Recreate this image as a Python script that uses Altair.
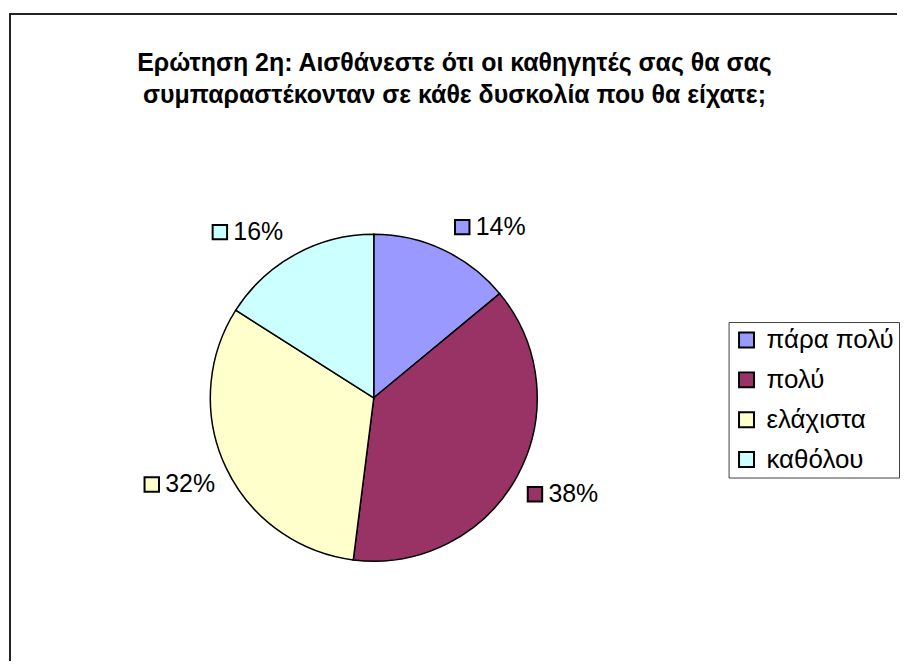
import altair as alt
import pandas as pd

categories = ["πάρα πολύ", "πολύ", "ελάχιστα", "καθόλου"]
values = [14, 38, 32, 16]
colors = ["#9999FF", "#993366", "#FFFFCC", "#CCFFFF"]
title_lines = [
    "Ερώτηση 2η: Αισθάνεστε ότι οι καθηγητές σας θα σας",
    "συμπαραστέκονταν σε κάθε δυσκολία που θα είχατε;",
]

df = pd.DataFrame({"category": categories, "value": values, "order": list(range(len(values)))})

W, H = 880, 640
CX, CY, R = 366, 390, 164
LR = 176
BOXW = 71
FONT = "Liberation Sans"

scale = alt.Scale(domain=categories, range=colors)
base = alt.Chart(df)

pie = base.mark_arc(radius=R, stroke="black", strokeWidth=1.5).encode(
    theta=alt.Theta("value:Q", stack=True),
    order=alt.Order("order:Q"),
    color=alt.Color(
        "category:N",
        scale=scale,
        sort=categories,
        legend=alt.Legend(
            title=None,
            orient="none",
            legendX=722,
            legendY=314,
            strokeColor="#404040",
            padding=5,
            symbolType="square",
            symbolSize=225,
            symbolStrokeColor="black",
            symbolStrokeWidth=2,
            symbolOpacity=1,
            labelFontSize=26,
            labelFont=FONT,
            labelColor="black",
            labelOffset=7,
            rowPadding=14,
        ),
    ),
    x=alt.value(CX),
    y=alt.value(CY),
)

lab = (
    base.transform_joinaggregate(total="sum(value)")
    .transform_window(cum="sum(value)", sort=[alt.SortField("order")])
    .transform_calculate(
        mid="2*PI*(datum.cum - datum.value/2)/datum.total",
        ax=f"{CX} + {LR}*sin(datum.mid)",
        ay=f"{CY} - {LR}*cos(datum.mid)",
    )
    .transform_calculate(
        gap="7*max(cos(datum.mid), 0)",
    )
    .transform_calculate(
        bl=f"sin(datum.mid) >= 0 ? datum.ax + datum.gap : datum.ax - {BOXW} - datum.gap",
        by="cos(datum.mid) >= 0 ? datum.ay - 12 : datum.ay + 12",
        label="datum.value + '%'",
    )
    .transform_calculate(sqx="datum.bl + 7.5", tx="datum.bl + 21")
)

squares = lab.mark_point(
    shape="square", filled=True, size=210, stroke="black", strokeWidth=2, opacity=1
).encode(
    x=alt.X("sqx:Q", scale=None),
    y=alt.Y("by:Q", scale=None),
    fill=alt.Fill("category:N", scale=scale, legend=None),
)

texts = lab.mark_text(
    align="left", baseline="middle", fontSize=25, font=FONT, color="black"
).encode(
    x=alt.X("tx:Q", scale=None),
    y=alt.Y("by:Q", scale=None),
    text="label:N",
)

title = alt.Chart(pd.DataFrame({"t": ["\n".join(title_lines)]})).mark_text(
    align="center", baseline="alphabetic", fontSize=25, fontWeight="bold", font=FONT,
    lineBreak="\n", lineHeight=32, color="black",
).encode(x=alt.value(447), y=alt.value(62), text="t:N")

frame_top = alt.Chart(pd.DataFrame({"a": [0]})).mark_rule(color="#222222", strokeWidth=2).encode(
    x=alt.value(0), x2=alt.value(891), y=alt.value(5)
)
frame_left = alt.Chart(pd.DataFrame({"a": [0]})).mark_rule(color="#222222", strokeWidth=2).encode(
    x=alt.value(1), y=alt.value(5), y2=alt.value(654)
)

chart = (
    alt.layer(frame_top, frame_left, pie, squares, texts, title)
    .properties(width=W, height=H, padding=0)
    .configure_view(stroke=None)
)

chart.save("out.html", embed_options={"renderer": "svg", "actions": False})
